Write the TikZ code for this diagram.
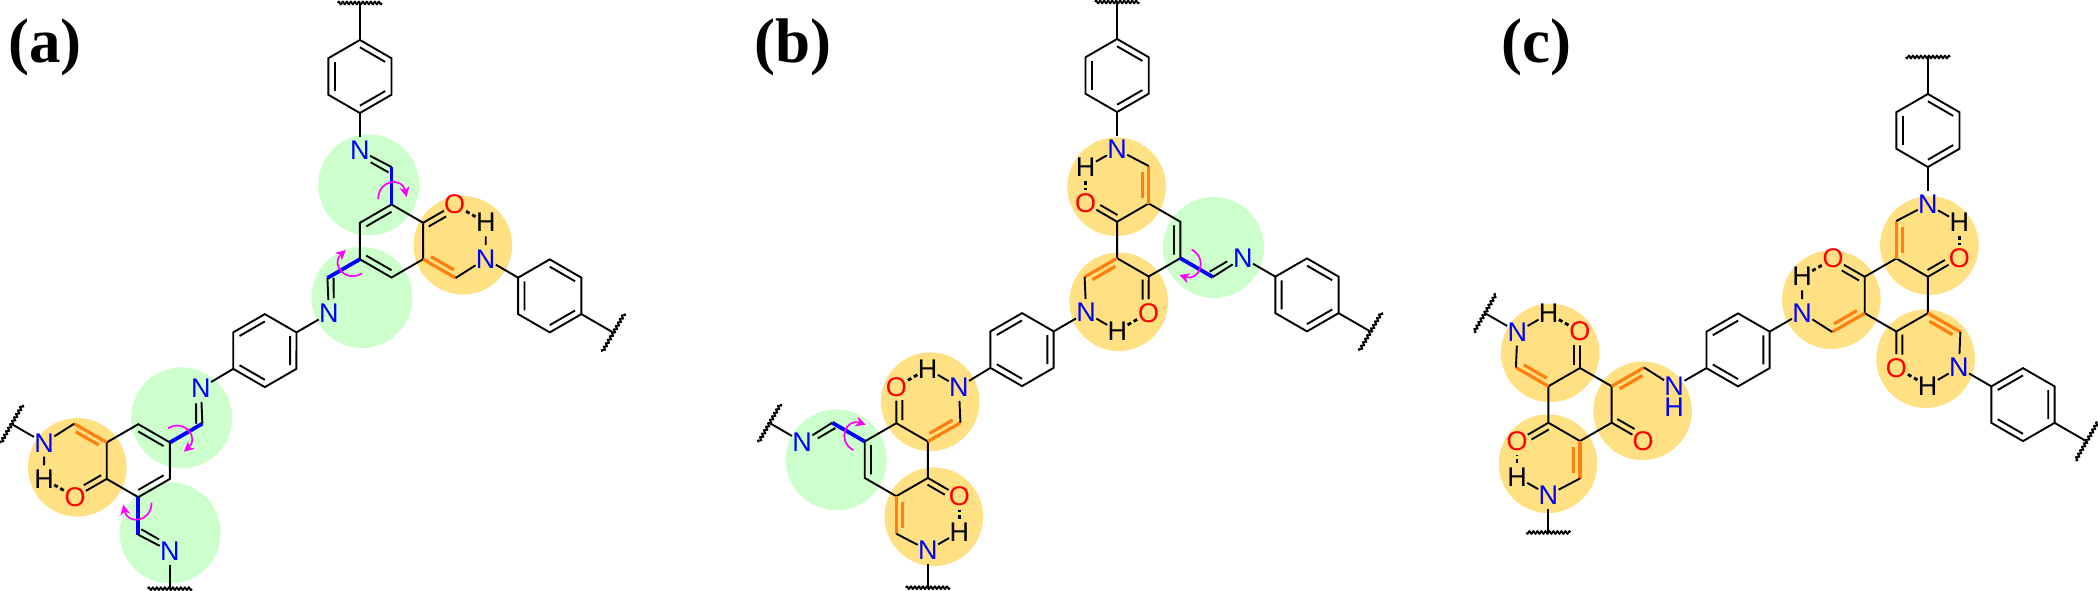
\documentclass[tikz,border=0pt]{standalone}
\usepackage{fontspec}
\setmainfont{Liberation Sans}
\newfontfamily\panelfont{Liberation Serif}
\usetikzlibrary{arrows.meta}
\definecolor{hlgreen}{HTML}{CCFFCC}
\definecolor{hlorange}{HTML}{FFE082}
\definecolor{dborange}{HTML}{FF7F0F}
\definecolor{rotmag}{HTML}{FF00FF}
\tikzset{
  bond/.style={black,line width=1.9pt},
  thickblue/.style={blue,line width=3.8pt},
  thickorange/.style={dborange,line width=3.2pt},
  hbond/.style={black,line width=2.8pt,dash pattern=on 4pt off 3pt},
  wavyline/.style={black,line width=1.7pt},
  rotarrow/.style={rotmag,line width=1.7pt,-{Stealth[length=10pt,width=10pt,inset=3pt]}},
  atom/.style={rectangle,inner sep=0pt,minimum width=20pt,minimum height=27pt,font=\fontsize{27}{27}\selectfont},
  atomN/.style={atom,text=blue},
  atomO/.style={atom,text=red},
  atomH/.style={atom,text=black},
  greenspot/.style={fill=hlgreen,draw=none},
  orangespot/.style={fill=hlorange,draw=none},
  panellabel/.style={anchor=base west,inner sep=0pt,font=\panelfont\bfseries\fontsize{63}{63}\selectfont},
  armframe/.style n args={3}{shift={(#1)},rotate=-#2,xscale=#3},
}
% central ring
\newcommand{\corering}[2]{%
  \coordinate (#1) at (#2);
  \begin{scope}[shift={(#1)}]
    \draw[bond,line join=miter] (0,-36.5) -- (31.6,-18.25) -- (31.6,18.25) -- (0,36.5) -- (-31.6,18.25) -- (-31.6,-18.25) -- cycle;
  \end{scope}}
% imine arm: #1 prefix, #2 centre, #3 angle, #4 mirror
\newcommand{\armImine}[4]{%
  \begin{scope}[armframe={#2}{#3}{#4}]
    \coordinate (#1V) at (0,-36.5);
    \coordinate (#1C) at (0,-74);
    \node[atomN] (#1N) at (-31.6,-90.5) {N};
    \draw[bond] (0,-29.2) -- (-25.3,-14.6);
    \draw[thickblue] (#1V) -- (#1C);
    \draw[bond] (#1C) -- (#1N);
    \draw[bond] (-3,-68.6) -- (-20.8,-78.7);
    \draw[rotarrow] (-13.3,-42) .. controls (-13,-62) and (11,-64) .. (15,-44);
  \end{scope}}
% keto-enamine arm, without the N-H hydrogen
\newcommand{\armKetoCore}[4]{%
  \begin{scope}[armframe={#2}{#3}{#4}]
    \coordinate (#1V) at (0,-36.5);
    \coordinate (#1C) at (0,-74);
    \coordinate (#1K) at (-31.6,-18.25);
    \node[atomN] (#1N) at (-31.6,-90.5) {N};
    \node[atomO] (#1O) at (-63,-36.5) {O};
    \draw[thickorange] (#1V) -- (#1C);
    \draw[thickorange] (-6.2,-42) -- (-6.2,-68.5);
    \draw[bond] (#1C) -- (#1N);
    \draw[bond] (#1K) -- (#1O);
    \draw[bond] (-31.2,-25) -- (-48.5,-35);
  \end{scope}}
\newcommand{\armKeto}[4]{%
  \armKetoCore{#1}{#2}{#3}{#4}
  \begin{scope}[armframe={#2}{#3}{#4}]
    \node[atomH] (#1H) at (-63,-72.5) {H};
    \draw[bond] (#1N) -- (#1H);
    \draw[hbond] (#1H) -- (#1O);
  \end{scope}}
% aryl ring tail: #5 flips the double bond pattern
\newcommand{\tailRing}[5]{%
  \begin{scope}[armframe={#2}{#3}{#4}]
    \begin{scope}[shift={(-31.6,-164.5)},xscale=#5]
      \coordinate (#1I) at (0,36.5);
      \coordinate (#1F) at (0,-36.5);
      \draw[bond,line join=miter] (0,-36.5) -- (31.6,-18.25) -- (31.6,18.25) -- (0,36.5) -- (-31.6,18.25) -- (-31.6,-18.25) -- cycle;
      \draw[bond] (0,-29.2) -- (25.3,-14.6);
      \draw[bond] (25.3,14.6) -- (0,29.2);
      \draw[bond] (-25.3,14.6) -- (-25.3,-14.6);
    \end{scope}
    \draw[bond] (#1N) -- (#1I);
  \end{scope}}
% open end with wavy cut
\newcommand{\wavycut}[5]{%
  \begin{scope}[armframe={#2}{#3}{#4}]
    \coordinate (#1W) at (-31.6,#5);
    \begin{scope}[shift={(#1W)}]
      \draw[wavyline] plot[domain=-22:22,samples=89] (\x,{1.4*sin(\x*90)});
    \end{scope}
  \end{scope}}
\newcommand{\tailEnd}[4]{%
  \wavycut{#1}{#2}{#3}{#4}{-238}
  \draw[bond] (#1F) -- (#1W);}
\newcommand{\tailStub}[4]{%
  \wavycut{#1}{#2}{#3}{#4}{-128}
  \draw[bond] (#1N) -- (#1W);}
\begin{document}
\begin{tikzpicture}[x=1pt,y=-1pt]
\useasboundingbox (0,0) rectangle (2098,591);
% highlight discs
\fill[greenspot] (368.7,185) circle (50.5);
\fill[greenspot] (362,297.5) circle (50.5);
\fill[orangespot] (462.8,245.3) circle (49.3);
\fill[greenspot] (181.7,417.8) circle (50.5);
\fill[greenspot] (170.2,533) circle (50.5);
\fill[orangespot] (77.3,467.3) circle (49.3);
\fill[orangespot] (1116.6,186.7) circle (49.3);
\fill[orangespot] (1118.7,301.7) circle (49.3);
\fill[greenspot] (1213.5,247.5) circle (50.5);
\fill[orangespot] (930.2,401.7) circle (49.3);
\fill[greenspot] (836.2,459.8) circle (50.5);
\fill[orangespot] (933.8,516.7) circle (49.3);
\fill[orangespot] (1929.4,245.5) circle (49.3);
\fill[orangespot] (1831.4,299.7) circle (49.3);
\fill[orangespot] (1925.6,358.7) circle (49.3);
\fill[orangespot] (1550.2,352.8) circle (49.3);
\fill[orangespot] (1642.6,410.8) circle (49.3);
\fill[orangespot] (1548,463.7) circle (49.3);
% panel labels
\node[panellabel] (la) at (8,62.7) {(a)};
\node[panellabel] (lb) at (754,62.7) {(b)};
\node[panellabel] (lc) at (1501,62.7) {(c)};
% panel a
\corering{ca}{391.5,241}
\armImine{aa}{ca}{0}{1}
\tailRing{aa}{ca}{0}{1}{1}
\tailEnd{aa}{ca}{0}{1}
\armKeto{ab}{ca}{120}{1}
\tailRing{ab}{ca}{120}{1}{1}
\tailEnd{ab}{ca}{120}{1}
\armImine{ac}{ca}{240}{1}
\tailRing{ac}{ca}{240}{1}{-1}
\corering{da}{138.3,460.7}
\armImine{ad}{da}{60}{1}
\draw[bond] (adN) -- (acF);
\armImine{ae}{da}{180}{1}
\tailStub{ae}{da}{180}{1}
\armKeto{af}{da}{300}{1}
\tailStub{af}{da}{300}{1}
% panel b
\corering{cb}{1148.7,240}
\armKeto{ba}{cb}{0}{1}
\tailRing{ba}{cb}{0}{1}{1}
\tailEnd{ba}{cb}{0}{1}
\armImine{bb}{cb}{120}{1}
\tailRing{bb}{cb}{120}{1}{1}
\tailEnd{bb}{cb}{120}{1}
\armKeto{bc}{cb}{240}{1}
\tailRing{bc}{cb}{240}{1}{-1}
\corering{db}{896.3,459.7}
\armKeto{bd}{db}{60}{1}
\draw[bond] (bdN) -- (bcF);
\armKeto{be}{db}{180}{1}
\tailStub{be}{db}{180}{1}
\armImine{bf}{db}{300}{1}
\tailStub{bf}{db}{300}{1}
% panel c
\corering{cc}{1896.3,295}
\armKeto{ca1}{cc}{0}{-1}
\tailRing{ca1}{cc}{0}{-1}{-1}
\tailEnd{ca1}{cc}{0}{-1}
\armKeto{cb1}{cc}{120}{-1}
\tailRing{cb1}{cc}{120}{-1}{1}
\tailEnd{cb1}{cc}{120}{-1}
\armKeto{cc1}{cc}{240}{-1}
\tailRing{cc1}{cc}{240}{-1}{1}
\corering{dc}{1580,404.5}
\armKetoCore{cd1}{dc}{60}{-1}
\node[atomN,yshift=-21pt,minimum height=0pt] (cd1H) at (cd1N) {H};
\draw[bond] (cd1N) -- (cc1F);
\armKeto{ce1}{dc}{180}{-1}
\tailStub{ce1}{dc}{180}{-1}
\armKeto{cf1}{dc}{300}{-1}
\tailStub{cf1}{dc}{300}{-1}
\end{tikzpicture}
\end{document}
